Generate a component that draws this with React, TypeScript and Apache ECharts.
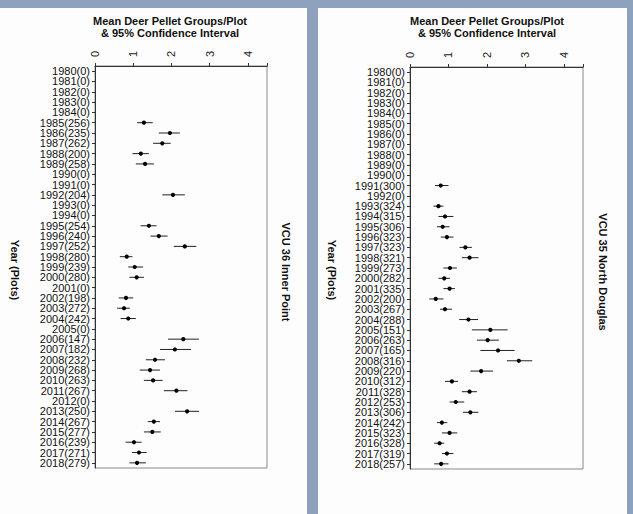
import React, { useEffect, useRef } from "react";
import * as echarts from "echarts";

const yearLabels = [
  "1980", "1981", "1982", "1983", "1984", "1985", "1986", "1987", "1988", "1989",
  "1990", "1991", "1992", "1993", "1994", "1995", "1996", "1997", "1998", "1999",
  "2000", "2001", "2002", "2003", "2004", "2005", "2006", "2007", "2008", "2009",
  "2010", "2011", "2012", "2013", "2014", "2015", "2016", "2017", "2018",
];

const innerPlots = [0, 0, 0, 0, 0, 256, 235, 262, 200, 258, 0, 0, 204, 0, 0, 254, 240, 252, 280, 239, 280, 0, 198, 272, 242, 0, 147, 182, 232, 268, 263, 267, 0, 250, 267, 277, 239, 271, 279];
const innerMean = [null, null, null, null, null, 1.28, 1.96, 1.76, 1.2, 1.31, null, null, 2.04, null, null, 1.41, 1.67, 2.35, 0.83, 1.04, 1.09, null, 0.81, 0.76, 0.87, null, 2.31, 2.09, 1.57, 1.44, 1.52, 2.13, null, 2.41, 1.54, 1.5, 1.02, 1.15, 1.1];
const innerLo = [null, null, null, null, null, 1.1, 1.67, 1.52, 0.98, 1.07, null, null, 1.76, null, null, 1.19, 1.45, 2.06, 0.65, 0.87, 0.9, null, 0.62, 0.58, 0.67, null, 1.91, 1.7, 1.33, 1.17, 1.28, 1.8, null, 2.09, 1.38, 1.28, 0.8, 0.97, 0.9];
const innerHi = [null, null, null, null, null, 1.51, 2.22, 1.98, 1.41, 1.54, null, null, 2.35, null, null, 1.61, 1.9, 2.65, 0.98, 1.26, 1.28, null, 1.0, 0.91, 1.07, null, 2.72, 2.51, 1.83, 1.7, 1.77, 2.42, null, 2.72, 1.7, 1.72, 1.22, 1.35, 1.33];

const northPlots = [0, 0, 0, 0, 0, 0, 0, 0, 0, 0, 0, 300, 0, 324, 315, 306, 323, 323, 321, 273, 282, 335, 200, 267, 288, 151, 263, 165, 316, 220, 312, 328, 253, 306, 242, 323, 328, 319, 257];
const northMean = [null, null, null, null, null, null, null, null, null, null, null, 0.8, null, 0.74, 0.91, 0.85, 0.96, 1.44, 1.55, 1.04, 0.89, 1.03, 0.67, 0.91, 1.52, 2.09, 2.02, 2.29, 2.83, 1.85, 1.09, 1.55, 1.19, 1.57, 0.83, 1.03, 0.77, 0.96, 0.81];
const northLo = [null, null, null, null, null, null, null, null, null, null, null, 0.65, null, 0.61, 0.74, 0.7, 0.8, 1.29, 1.35, 0.87, 0.74, 0.87, 0.5, 0.78, 1.28, 1.61, 1.74, 1.83, 2.52, 1.57, 0.91, 1.35, 1.03, 1.38, 0.7, 0.83, 0.63, 0.83, 0.63];
const northHi = [null, null, null, null, null, null, null, null, null, null, null, 1.0, null, 0.87, 1.13, 1.03, 1.13, 1.61, 1.78, 1.22, 1.04, 1.17, 0.87, 1.09, 1.77, 2.54, 2.31, 2.72, 3.18, 2.16, 1.25, 1.74, 1.41, 1.78, 0.97, 1.23, 0.89, 1.13, 1.0];

const xTicks = [0, 1, 2, 3, 4];
const titleLine1 = "Mean Deer Pellet Groups/Plot";
const titleLine2 = "& 95% Confidence Interval";
const yName = "Year (Plots)";
const panelNames = ["VCU 36 Inner Point", "VCU 35 North Douglas"];

const FONT = "'Liberation Sans', Arial, Helvetica, sans-serif";

function buildData(mean: (number | null)[], lo: (number | null)[], hi: (number | null)[]) {
  const out: number[][] = [];
  mean.forEach((m, i) => {
    if (m !== null && lo[i] !== null && hi[i] !== null) out.push([m, lo[i] as number, hi[i] as number, i]);
  });
  return out;
}

function labels(plots: number[]) {
  return yearLabels.map((y, i) => `${y}(${plots[i]})`);
}

const renderItem = (params: any, api: any) => {
  const m = api.value(0);
  const lo = api.value(1);
  const hi = api.value(2);
  const c = api.value(3);
  const pLo = api.coord([lo, c]);
  const pHi = api.coord([hi, c]);
  const pM = api.coord([m, c]);
  return {
    type: "group",
    children: [
      { type: "line", shape: { x1: pLo[0], y1: pLo[1], x2: pHi[0], y2: pHi[1] }, style: { stroke: "#222", lineWidth: 1 } },
      { type: "circle", shape: { cx: pM[0], cy: pM[1], r: 2.1 }, style: { fill: "#000" } },
    ],
  };
};

export default function App() {
  const ref = useRef<HTMLDivElement>(null);
  useEffect(() => {
    if (!ref.current) return;
    const chart = echarts.init(ref.current, undefined, { renderer: "svg" });
    const grids = [
      { left: 95, top: 66, width: 172, height: 402 },
      { left: 410, top: 67, width: 173, height: 402 },
    ];
    const xAxis = grids.map((_, i) => ({
      gridIndex: i,
      type: "value",
      position: "top",
      min: 0,
      max: 4.5,
      interval: 1,
      axisLine: { show: true, lineStyle: { color: "#333", width: 1 } },
      axisTick: { show: true, length: 3, lineStyle: { color: "#333" } },
      axisLabel: {
        rotate: -90,
        fontSize: 11,
        color: "#222",
        margin: 9,
        fontFamily: FONT,
        formatter: (v: number) => (xTicks.indexOf(v) >= 0 ? String(v) : ""),
      },
      splitLine: { show: false },
    }));
    const yAxis = [innerPlots, northPlots].map((p, i) => ({
      gridIndex: i,
      type: "category",
      inverse: true,
      data: labels(p),
      axisLine: { show: true, lineStyle: { color: "#333", width: 1 } },
      axisTick: { show: true, alignWithLabel: true, length: 3, lineStyle: { color: "#333" } },
      axisLabel: { interval: 0, fontSize: 11, lineHeight: 10, color: "#111", margin: 5, fontFamily: FONT },
    }));
    const panelCenters = [170, 487];
    const graphic: any[] = [
      { type: "rect", z: -10, shape: { x: 0, y: 8, width: 307, height: 506 }, style: { fill: "#fdfdfd" } },
      { type: "rect", z: -10, shape: { x: 318, y: 8, width: 309, height: 506 }, style: { fill: "#fdfdfd" } },
    ];
    panelCenters.forEach((cx) => {
      graphic.push({
        type: "text", x: cx, y: 21,
        style: { text: titleLine1, fontSize: 11, fontWeight: "bold", fontFamily: FONT, fill: "#111", textAlign: "center", textVerticalAlign: "middle" },
      });
      graphic.push({
        type: "text", x: cx, y: 33,
        style: { text: titleLine2, fontSize: 11, fontWeight: "bold", fontFamily: FONT, fill: "#111", textAlign: "center", textVerticalAlign: "middle" },
      });
    });
    [15, 332].forEach((x) => {
      graphic.push({
        type: "text", x, y: 270, rotation: -Math.PI / 2,
        style: { text: yName, fontSize: 11, fontWeight: "bold", fontFamily: FONT, fill: "#111", textAlign: "center", textVerticalAlign: "middle" },
      });
    });
    [286, 603].forEach((x, i) => {
      graphic.push({
        type: "text", x, y: 272, rotation: -Math.PI / 2,
        style: { text: panelNames[i], fontSize: 11, fontWeight: "bold", fontFamily: FONT, fill: "#111", textAlign: "center", textVerticalAlign: "middle" },
      });
    });

    chart.setOption({
      animation: false,
      backgroundColor: "#8ea2bd",
      grid: grids.map((g) => ({ ...g, show: true, borderColor: "#888", borderWidth: 1, backgroundColor: "transparent", containLabel: false })),
      xAxis,
      yAxis,
      graphic,
      series: [
        { type: "custom", xAxisIndex: 0, yAxisIndex: 0, renderItem, encode: { x: [0, 1, 2], y: 3 }, data: buildData(innerMean, innerLo, innerHi), z: 5 },
        { type: "custom", xAxisIndex: 1, yAxisIndex: 1, renderItem, encode: { x: [0, 1, 2], y: 3 }, data: buildData(northMean, northLo, northHi), z: 5 },
      ],
    });
    return () => chart.dispose();
  }, []);
  return <div ref={ref} style={{ position: "absolute", left: 0, top: 0, width: 633, height: 514 }} />;
}
